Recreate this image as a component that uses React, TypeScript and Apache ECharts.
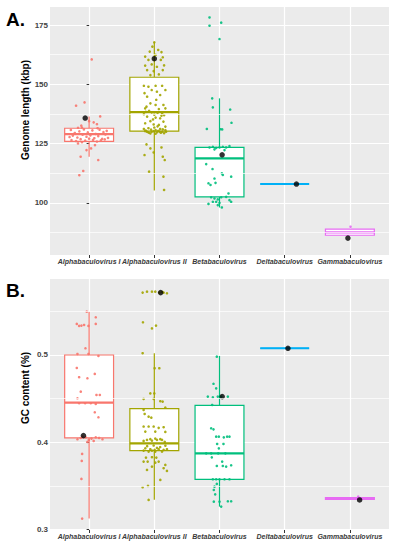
import React, { useEffect, useRef } from "react";
import * as echarts from "echarts";

const categories = [
  "Alphabaculovirus I",
  "Alphabaculovirus II",
  "Betabaculovirus",
  "Deltabaculovirus",
  "Gammabaculovirus",
];
const catPositions = [0, 1, 2, 3, 4];
const colors = ["#F8766D", "#A3A500", "#00BF7D", "#00B0F6", "#E76BF3"];

const lengthTicks = [100, 125, 150, 175];
const lengthMinorTicks = [87.5, 112.5, 137.5, 162.5];
const gcTicks = [0.3, 0.4, 0.5];
const gcMinorTicks = [0.35, 0.45, 0.55];

// box statistics: [lower whisker, Q1, median, Q3, upper whisker]
const lengthBoxes = [
  [119.5, 126.0, 129.0, 131.5, 136.5],
  [105.3, 130.3, 138.3, 153.0, 167.7],
  [98.1, 102.6, 118.8, 123.4, 144.1],
  [108.0, 108.0, 108.0, 108.0, 108.0],
  [86.4, 86.4, 87.6, 89.0, 89.0],
];
const gcBoxes = [
  [0.3125, 0.405, 0.4454, 0.5, 0.5497],
  [0.334, 0.3904, 0.3988, 0.4385, 0.502],
  [0.3262, 0.3575, 0.3873, 0.4423, 0.4989],
  [0.5077, 0.5077, 0.5077, 0.5077, 0.5077],
  [0.3345, 0.3345, 0.3355, 0.3365, 0.3365],
];

// reference genomes (black dots): [jitter offset, value]
const lengthRefs = [
  [-0.06, 135.8],
  [0.0, 160.8],
  [0.04, 120.3],
  [0.18, 108.0],
  [-0.03, 85.2],
];
const gcRefs = [
  [-0.087, 0.4076],
  [0.097, 0.5715],
  [0.041, 0.4523],
  [0.05, 0.5077],
  [0.149, 0.3338],
];

// jittered genomes: [jitter offset, value]
const lengthAlpha1 = [
  [0.04, 160.5], [-0.2, 141.0], [-0.07, 142.4], [0.17, 136.5], [0.0, 134.5], [0.07, 134.0],
  [0.12, 133.2], [-0.17, 131.7], [-0.12, 132.6],
  [-0.28, 130.8], [-0.22, 129.5], [-0.15, 130.2], [-0.08, 131.0], [-0.02, 129.8], [0.05, 130.6],
  [0.1, 129.1], [0.16, 130.9], [0.22, 129.9], [0.27, 130.4],
  [-0.25, 128.4], [-0.18, 127.6], [-0.1, 128.8], [-0.04, 127.9], [0.02, 128.5], [0.08, 127.3],
  [0.14, 128.2], [0.2, 127.0], [0.25, 128.9],
  [-0.27, 126.5], [-0.2, 126.1], [-0.13, 126.9], [-0.06, 126.3], [0.0, 127.1], [0.06, 126.6],
  [0.12, 125.9], [0.18, 126.4], [0.24, 126.8],
  [-0.11, 131.8], [0.13, 131.5], [-0.3, 127.8], [0.29, 127.4],
  [-0.17, 125.1], [-0.11, 125.6], [0.09, 124.4], [0.03, 123.0], [-0.04, 122.3], [-0.13, 119.5],
  [0.14, 118.1], [-0.09, 113.5], [-0.15, 111.7],
];
const lengthAlpha2 = [
  [0.0, 167.7], [-0.03, 165.9], [0.06, 164.5], [-0.07, 163.8], [0.11, 163.6], [-0.14, 161.7],
  [0.02, 162.4], [0.13, 161.4], [-0.09, 160.3], [0.1, 160.3], [-0.04, 158.4], [-0.14, 157.9],
  [0.04, 157.4], [0.15, 158.0], [-0.11, 156.0], [-0.01, 155.6], [0.13, 156.0], [-0.06, 153.9],
  [0.07, 154.2],
  [-0.16, 149.4], [-0.09, 149.0], [0.02, 149.4], [0.12, 149.4], [-0.04, 147.6], [0.17, 147.6],
  [0.04, 146.9], [-0.11, 144.8], [0.09, 145.5], [-0.15, 146.3],
  [-0.06, 142.0], [0.02, 141.3], [0.14, 141.3], [-0.14, 139.9], [0.07, 139.6], [0.17, 139.9],
  [-0.04, 138.2], [0.12, 137.8], [-0.16, 137.4], [-0.11, 136.4], [0.02, 136.0], [0.09, 135.7],
  [-0.06, 134.5], [0.14, 134.3], [-0.14, 133.6], [-0.01, 133.1], [0.07, 132.9], [0.17, 132.2],
  [-0.09, 131.5], [0.02, 130.7], [0.09, 131.2], [-0.04, 130.0], [0.04, 129.8], [-0.11, 130.0],
  [0.12, 130.0], [0.17, 130.7], [-0.16, 131.2], [-0.06, 129.3], [0.02, 129.2], [-0.01, 130.3],
  [0.06, 130.4], [-0.13, 130.5], [0.1, 129.6], [0.15, 129.4], [-0.08, 129.6], [0.0, 131.8],
  [0.05, 132.3], [-0.02, 135.2], [0.11, 136.8], [-0.12, 140.6], [0.03, 143.5],
  [-0.14, 130.3], [-0.05, 130.9], [0.08, 130.1], [0.13, 131.0], [-0.1, 129.9], [0.18, 130.0],
  [-0.08, 138.8], [0.05, 138.0], [0.15, 137.0], [-0.13, 138.4], [0.0, 137.2],
  [-0.12, 124.7], [-0.06, 123.0], [0.11, 123.4], [-0.15, 120.2], [-0.01, 121.3], [0.13, 119.5],
  [0.16, 118.1], [-0.08, 113.2], [0.14, 111.1], [0.15, 105.5],
];
const lengthBeta = [
  [-0.153, 178.2], [-0.153, 174.7], [0.026, 176.0], [0.0, 169.1], [-0.112, 144.1], [-0.102, 140.3],
  [0.164, 139.4], [0.184, 133.8], [-0.194, 131.2], [0.015, 131.1], [0.041, 131.0],
  [-0.153, 123.4], [-0.102, 123.7], [-0.051, 123.2], [0.0, 123.4], [0.051, 123.7], [0.102, 123.4],
  [0.153, 124.0], [-0.077, 122.6], [0.077, 122.3],
  [-0.204, 116.4], [-0.107, 114.3], [-0.077, 110.3], [-0.061, 108.5], [0.051, 111.8], [0.036, 112.5],
  [0.179, 111.1], [-0.169, 108.3], [-0.138, 107.6],
  [-0.128, 102.4], [-0.077, 101.9], [-0.026, 101.5], [0.026, 102.4], [0.102, 102.6], [0.153, 101.2],
  [-0.102, 100.5], [-0.051, 100.5], [0.0, 100.1], [0.179, 100.5], [-0.169, 99.6], [-0.026, 99.1],
  [0.036, 98.1], [0.138, 104.0],
];
const lengthDelta = [[0.18, 108.0]];
const lengthGamma = [[0.01, 90.0]];

const gcAlpha1 = [
  [-0.036, 0.5497], [0.102, 0.5432], [-0.189, 0.5356], [-0.153, 0.5333], [-0.118, 0.5337],
  [-0.077, 0.5344], [-0.01, 0.5333], [0.102, 0.5356], [-0.056, 0.5077], [-0.179, 0.5012],
  [-0.01, 0.5012], [0.143, 0.4989], [-0.189, 0.4851], [-0.153, 0.4745], [-0.026, 0.4733],
  [0.087, 0.4783], [-0.128, 0.458], [-0.179, 0.4504], [0.113, 0.4542], [0.164, 0.4542],
  [-0.153, 0.4447], [-0.061, 0.4447], [0.026, 0.4447], [0.102, 0.4439], [0.087, 0.4343],
  [0.143, 0.4286],
  [-0.179, 0.4034], [-0.128, 0.4049], [-0.051, 0.4057], [-0.005, 0.4026], [0.036, 0.4042],
  [0.102, 0.4057], [0.153, 0.4049], [0.205, 0.4034], [-0.026, 0.4003], [-0.1, 0.4065], [0.07, 0.4015],
  [-0.107, 0.3866], [-0.113, 0.3786], [-0.118, 0.358], [-0.107, 0.3125],
];
const gcAlpha2 = [
  [-0.179, 0.5715], [-0.112, 0.5726], [-0.036, 0.5726], [0.015, 0.5726], [0.077, 0.5715],
  [0.143, 0.5715], [0.194, 0.5707], [0.12, 0.5722],
  [-0.174, 0.5375], [-0.036, 0.5305], [0.026, 0.5337], [-0.179, 0.502], [0.005, 0.4848],
  [0.077, 0.4848], [-0.061, 0.456], [0.0, 0.456], [-0.164, 0.4496], [-0.01, 0.4496],
  [0.092, 0.447], [0.128, 0.4466], [0.169, 0.4397],
  [-0.164, 0.437], [-0.148, 0.4324], [-0.087, 0.4293], [-0.046, 0.4282], [-0.164, 0.418],
  [-0.087, 0.418], [-0.01, 0.418], [0.067, 0.4165], [0.143, 0.4172], [-0.138, 0.4122],
  [0.015, 0.4122], [0.169, 0.4118],
  [-0.061, 0.4035], [0.015, 0.4042], [0.092, 0.4035], [-0.164, 0.4015], [-0.112, 0.4027],
  [-0.036, 0.4019], [0.041, 0.4027], [0.118, 0.4027], [0.16, 0.4005],
  [-0.138, 0.3931], [-0.061, 0.392], [0.005, 0.3912], [0.067, 0.392], [0.143, 0.3912],
  [0.194, 0.392], [-0.087, 0.3893], [0.015, 0.3893], [0.118, 0.3893], [-0.164, 0.3904],
  [-0.036, 0.3904], [0.041, 0.3935], [0.09, 0.3945], [-0.11, 0.3955], [0.17, 0.396], [-0.01, 0.3962],
  [-0.128, 0.3824], [-0.036, 0.3828], [0.031, 0.3824], [-0.164, 0.3778], [-0.102, 0.3778],
  [0.067, 0.3778], [0.015, 0.3766], [-0.036, 0.3721], [-0.112, 0.3683], [0.169, 0.374],
  [0.143, 0.3702], [0.194, 0.3671], [-0.179, 0.3484], [-0.097, 0.35], [0.092, 0.3568], [-0.087, 0.3339],
];
const gcBeta = [
  [-0.041, 0.4981], [-0.092, 0.467], [-0.051, 0.4618], [-0.179, 0.4523], [-0.102, 0.4515],
  [-0.026, 0.4523], [0.026, 0.4523], [0.128, 0.4523], [-0.112, 0.4427],
  [-0.128, 0.416], [-0.092, 0.4148], [-0.051, 0.4064], [-0.01, 0.4064], [0.066, 0.4056],
  [0.117, 0.4064], [0.153, 0.4064], [-0.036, 0.398], [0.061, 0.398], [-0.01, 0.393],
  [-0.204, 0.3873], [-0.128, 0.3873], [-0.02, 0.3873], [0.09, 0.3873], [-0.118, 0.3827],
  [0.041, 0.3778], [-0.041, 0.3728], [0.051, 0.3728], [0.102, 0.3721], [0.179, 0.3736],
  [-0.102, 0.3575], [-0.051, 0.3575], [0.0, 0.3575], [0.077, 0.3575], [0.153, 0.3575],
  [-0.041, 0.3522], [-0.077, 0.3491], [-0.087, 0.3453], [-0.066, 0.3403], [-0.087, 0.3319],
  [0.0, 0.3319], [0.128, 0.3323], [0.179, 0.3323], [0.026, 0.3262],
];
const gcDelta = [[0.05, 0.5077]];
const gcGamma = [[0.128, 0.3376]];

const lengthPoints = [lengthAlpha1, lengthAlpha2, lengthBeta, lengthDelta, lengthGamma];
const gcPoints = [gcAlpha1, gcAlpha2, gcBeta, gcDelta, gcGamma];

const FONT = "Liberation Sans, Arial, sans-serif";
const X_MIN = -0.6;
const X_MAX = 4.6;

const renderBox = (params: any, api: any) => {
  const i = api.value(0);
  const color = colors[i];
  const low = api.coord([i, api.value(1)]);
  const q1 = api.coord([i, api.value(2)]);
  const med = api.coord([i, api.value(3)]);
  const q3 = api.coord([i, api.value(4)]);
  const high = api.coord([i, api.value(5)]);
  const half = api.size([0.375, 0])[0];
  const cx = med[0];
  return {
    type: "group",
    children: [
      { type: "line", shape: { x1: cx, y1: high[1], x2: cx, y2: q3[1] }, style: { stroke: color, lineWidth: 1.2 } },
      { type: "line", shape: { x1: cx, y1: q1[1], x2: cx, y2: low[1] }, style: { stroke: color, lineWidth: 1.2 } },
      {
        type: "rect",
        shape: { x: cx - half, y: q3[1], width: half * 2, height: q1[1] - q3[1] },
        style: { fill: "#ffffff", stroke: color, lineWidth: 1.2 },
      },
      { type: "line", shape: { x1: cx - half, y1: med[1], x2: cx + half, y2: med[1] }, style: { stroke: color, lineWidth: 2.2 } },
    ],
  };
};

const makeXAxis = (gridIndex: number) => ({
  type: "value",
  gridIndex,
  min: X_MIN,
  max: X_MAX,
  axisLine: { show: false },
  axisTick: { show: true, length: 3, customValues: catPositions, lineStyle: { color: "#333333", width: 1 } },
  axisLabel: {
    // blank sentinels at the axis ends keep the min/max overlap check away from the category labels
    customValues: [X_MIN, ...catPositions, X_MAX],
    formatter: (v: number) => {
      const i = catPositions.indexOf(v);
      return i >= 0 ? categories[i] : " ";
    },
    fontSize: 7,
    fontWeight: "bold",
    fontStyle: "italic",
    color: "#3a3a3a",
    fontFamily: FONT,
    margin: 3,
    showMinLabel: true,
    showMaxLabel: true,
    hideOverlap: false,
  },
  splitLine: { show: true, lineStyle: { color: "#ffffff", width: 1.2 } },
});

const makeYAxis = (gridIndex: number, min: number, max: number, major: number[]) => ({
  type: "value",
  gridIndex,
  min,
  max,
  axisLine: { show: false },
  axisTick: { show: true, length: 2.5, customValues: major, lineStyle: { color: "#333333", width: 1 } },
  axisLabel: {
    customValues: major,
    fontSize: 8,
    fontWeight: "bold",
    color: "#444444",
    fontFamily: FONT,
    margin: 2,
    showMinLabel: true,
    showMaxLabel: true,
  },
  splitLine: { show: true, lineStyle: { color: "#ffffff", width: 1.2 } },
});

const makeSeries = (xi: number, yi: number, boxes: number[][], points: number[][][], refs: number[][], minor: number[]) => {
  const out: any[] = [
    {
      type: "scatter",
      xAxisIndex: xi,
      yAxisIndex: yi,
      data: [],
      z: 1,
      silent: true,
      markLine: {
        silent: true,
        symbol: ["none", "none"],
        label: { show: false },
        lineStyle: { color: "#ffffff", width: 0.7, type: "solid" },
        data: minor.map((v) => ({ yAxis: v })),
      },
    },
    {
      type: "custom",
      xAxisIndex: xi,
      yAxisIndex: yi,
      renderItem: renderBox,
      encode: { x: 0, y: [1, 2, 3, 4, 5] },
      data: boxes.map((b, i) => [catPositions[i], ...b]),
      z: 2,
      silent: true,
    },
  ];
  points.forEach((pts, i) => {
    out.push({
      type: "scatter",
      xAxisIndex: xi,
      yAxisIndex: yi,
      symbolSize: 2.6,
      itemStyle: { color: colors[i], opacity: 0.9 },
      data: pts.map((p) => [catPositions[i] + p[0], p[1]]),
      z: 3,
      silent: true,
    });
  });
  out.push({
    type: "scatter",
    xAxisIndex: xi,
    yAxisIndex: yi,
    symbolSize: 5.5,
    itemStyle: { color: "#000000" },
    data: refs.map((r, i) => [catPositions[i] + r[0], r[1]]),
    z: 4,
    silent: true,
  });
  return out;
};

export default function App() {
  const ref = useRef<HTMLDivElement>(null);
  useEffect(() => {
    document.body.style.margin = "0";
    if (!ref.current) return;
    const chart = echarts.init(ref.current, null, { renderer: "svg" });
    chart.setOption({
      animation: false,
      backgroundColor: "#ffffff",
      grid: [
        { left: 50, top: 7, width: 339, height: 248, show: true, backgroundColor: "#EBEBEB", borderWidth: 0 },
        { left: 50, top: 279, width: 339, height: 251, show: true, backgroundColor: "#EBEBEB", borderWidth: 0 },
      ],
      xAxis: [makeXAxis(0), makeXAxis(1)],
      yAxis: [makeYAxis(0, 78.08, 182.6, lengthTicks), makeYAxis(1, 0.2994, 0.5871, gcTicks)],
      series: [
        ...makeSeries(0, 0, lengthBoxes, lengthPoints, lengthRefs, lengthMinorTicks),
        ...makeSeries(1, 1, gcBoxes, gcPoints, gcRefs, gcMinorTicks),
      ],
      graphic: [
        { type: "text", x: 6, y: 19, style: { text: "A.", font: `bold 19px ${FONT}`, fill: "#000", textVerticalAlign: "middle" } },
        { type: "text", x: 6, y: 290, style: { text: "B.", font: `bold 19px ${FONT}`, fill: "#000", textVerticalAlign: "middle" } },
        {
          type: "text", x: 25, y: 110, rotation: Math.PI / 2,
          style: { text: "Genome length (kbp)", font: `bold 10px ${FONT}`, fill: "#000", textAlign: "center", textVerticalAlign: "middle" },
        },
        {
          type: "text", x: 25, y: 388, rotation: Math.PI / 2,
          style: { text: "GC content (%)", font: `bold 10px ${FONT}`, fill: "#000", textAlign: "center", textVerticalAlign: "middle" },
        },
      ],
    });
    return () => chart.dispose();
  }, []);
  return <div ref={ref} style={{ position: "absolute", left: 0, top: 0, width: 399, height: 550 }} />;
}
